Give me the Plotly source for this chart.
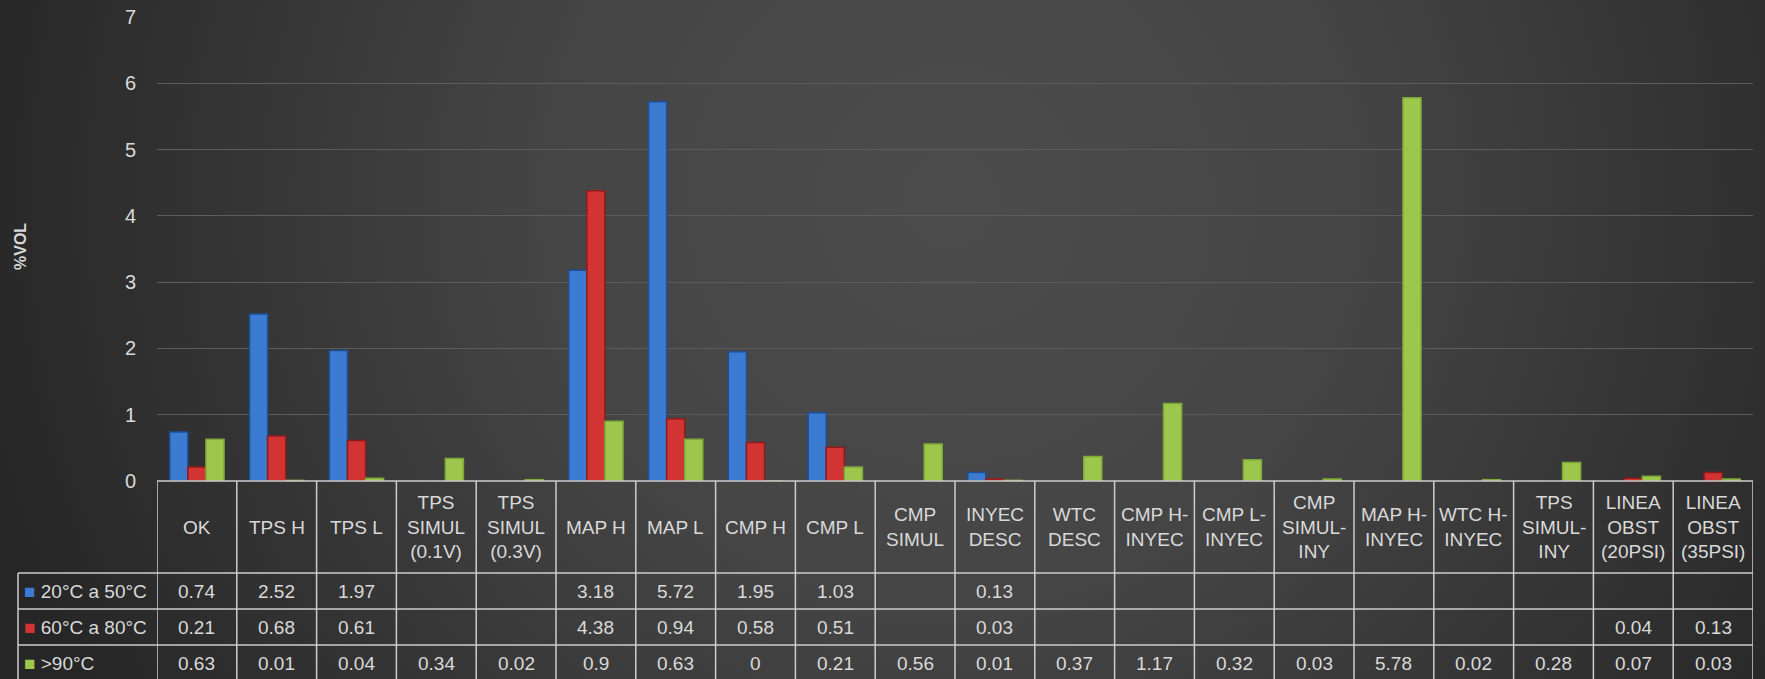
import base64
import plotly.graph_objects as go

######################################################################## DATOS
categorias = ["OK", "TPS H", "TPS L", "TPS<br>SIMUL<br>(0.1V)", "TPS<br>SIMUL<br>(0.3V)",
              "MAP H", "MAP L", "CMP H", "CMP L", "CMP<br>SIMUL", "INYEC<br>DESC",
              "WTC<br>DESC", "CMP H-<br>INYEC", "CMP L-<br>INYEC", "CMP<br>SIMUL-<br>INY",
              "MAP H-<br>INYEC", "WTC H-<br>INYEC", "TPS<br>SIMUL-<br>INY",
              "LINEA<br>OBST<br>(20PSI)", "LINEA<br>OBST<br>(35PSI)"]

serie_20_50 = [0.74, 2.52, 1.97, None, None, 3.18, 5.72, 1.95, 1.03, None, 0.13,
               None, None, None, None, None, None, None, None, None]
serie_60_80 = [0.21, 0.68, 0.61, None, None, 4.38, 0.94, 0.58, 0.51, None, 0.03,
               None, None, None, None, None, None, None, 0.04, 0.13]
serie_90 = [0.63, 0.01, 0.04, 0.34, 0.02, 0.9, 0.63, 0, 0.21, 0.56, 0.01,
            0.37, 1.17, 0.32, 0.03, 5.78, 0.02, 0.28, 0.07, 0.03]

nombres = ["20°C a 50°C", "60°C a 80°C", ">90°C"]
colores = ["#3b7bd1", "#d23333", "#9dc64c"]
bordes = ["#1f4f96", "#8e1c1c", "#7fa83a"]

######################################################################## GEOMETRIA
W, H = 1765, 679
TXT = "#d9d9d9"
LINEA = "#cdcdcd"
FUENTE = "Liberation Sans"


def py(p):
    return 1 - p / H


def px_(p):
    return p / W


claves = [c.replace("<br>", " ") for c in categorias]
valores = [serie_20_50, serie_60_80, serie_90]

# fondo degradado (como el de excel)
svg = ('<svg xmlns="http://www.w3.org/2000/svg" width="1765" height="679" '
       'viewBox="0 0 1765 679" preserveAspectRatio="none">'
       '<defs><radialGradient id="g" gradientUnits="userSpaceOnUse" cx="950" cy="200" r="1000">'
       '<stop offset="0" stop-color="#4c4c4c"/><stop offset="0.4" stop-color="#454545"/>'
       '<stop offset="1" stop-color="#262626"/></radialGradient></defs>'
       '<rect width="1765" height="679" fill="url(#g)"/></svg>')
fondo = "data:image/svg+xml;base64," + base64.b64encode(svg.encode()).decode()

######################################################################## GRAFICA
fig = go.Figure()
for nombre, vals, col, bor in zip(nombres, valores, colores, bordes):
    fig.add_trace(go.Bar(x=claves, y=vals, name=nombre,
                         marker=dict(color=col, line=dict(width=1.5, color=bor))))

fig.update_layout(
    width=W, height=H,
    margin=dict(l=0, r=0, t=0, b=0, autoexpand=False),
    paper_bgcolor="#353535", plot_bgcolor="rgba(0,0,0,0)",
    showlegend=False, barmode="group", bargap=0.32, bargroupgap=0,
    font=dict(family=FUENTE, color=TXT, size=19),
    images=[dict(source=fondo, xref="paper", yref="paper", x=0, y=1,
                 sizex=1, sizey=1, sizing="stretch", layer="below")],
    xaxis=dict(domain=[px_(157), px_(1753)], range=[-0.5, len(claves) - 0.5],
               showticklabels=False, showgrid=False, zeroline=False, showline=False,
               automargin=False),
    yaxis=dict(domain=[py(481), py(17)], range=[0, 7], dtick=1,
               gridcolor="#5c5c5c", gridwidth=1, zeroline=False, showline=False,
               automargin=False,
               ticklabelstandoff=20, tickfont=dict(size=20, color=TXT)),
)

######################################################################## TABLA DE DATOS
shapes = []
# lineas horizontales
shapes.append(dict(type="line", xref="paper", yref="paper", x0=px_(157), x1=px_(1753),
                   y0=py(481), y1=py(481), line=dict(color=LINEA, width=1.5)))
for yy in [573, 609, 645]:
    shapes.append(dict(type="line", xref="paper", yref="paper", x0=px_(18), x1=px_(1753),
                       y0=py(yy), y1=py(yy), line=dict(color=LINEA, width=1.5)))
# lineas verticales entre categorias
for i in range(len(claves) + 1):
    shapes.append(dict(type="line", xref="x", yref="paper", x0=i - 0.5, x1=i - 0.5,
                       y0=py(681), y1=py(481), line=dict(color=LINEA, width=1.5)))
shapes.append(dict(type="line", xref="paper", yref="paper", x0=px_(18), x1=px_(18),
                   y0=py(681), y1=py(573), line=dict(color=LINEA, width=1.5)))
fig.update_layout(shapes=shapes)

# encabezados
for clave, etiqueta in zip(claves, categorias):
    fig.add_annotation(x=clave, xref="x", y=py(527), yref="paper", text=etiqueta,
                       showarrow=False, xanchor="center", yanchor="middle",
                       font=dict(size=19, color=TXT))

# valores
centros = [591, 627, 663]
for fila, (nombre, vals, col) in enumerate(zip(nombres, valores, colores)):
    fig.add_annotation(x=px_(22), xref="paper", y=py(centros[fila]), yref="paper",
                       xanchor="left", yanchor="middle", showarrow=False,
                       text=f"<span style='color:{col}'>■</span> {nombre}",
                       font=dict(size=19, color=TXT))
    for clave, v in zip(claves, vals):
        if v is None:
            continue
        fig.add_annotation(x=clave, xref="x", y=py(centros[fila]), yref="paper",
                           xanchor="center", yanchor="middle",
                           text=f"{v:g}", showarrow=False, font=dict(size=19, color=TXT))

# titulo eje y
fig.add_annotation(x=px_(20), xref="paper", y=py(247), yref="paper", text="<b>%VOL</b>",
                   xanchor="center", yanchor="middle",
                   textangle=-90, showarrow=False, font=dict(size=16, color=TXT))

fig.write_html("out.html", config={"displayModeBar": False},
               post_script="document.body.style.margin='0';"
                           "document.body.style.overflow='hidden';"
                           "document.body.style.background='#2a2a2a';")
